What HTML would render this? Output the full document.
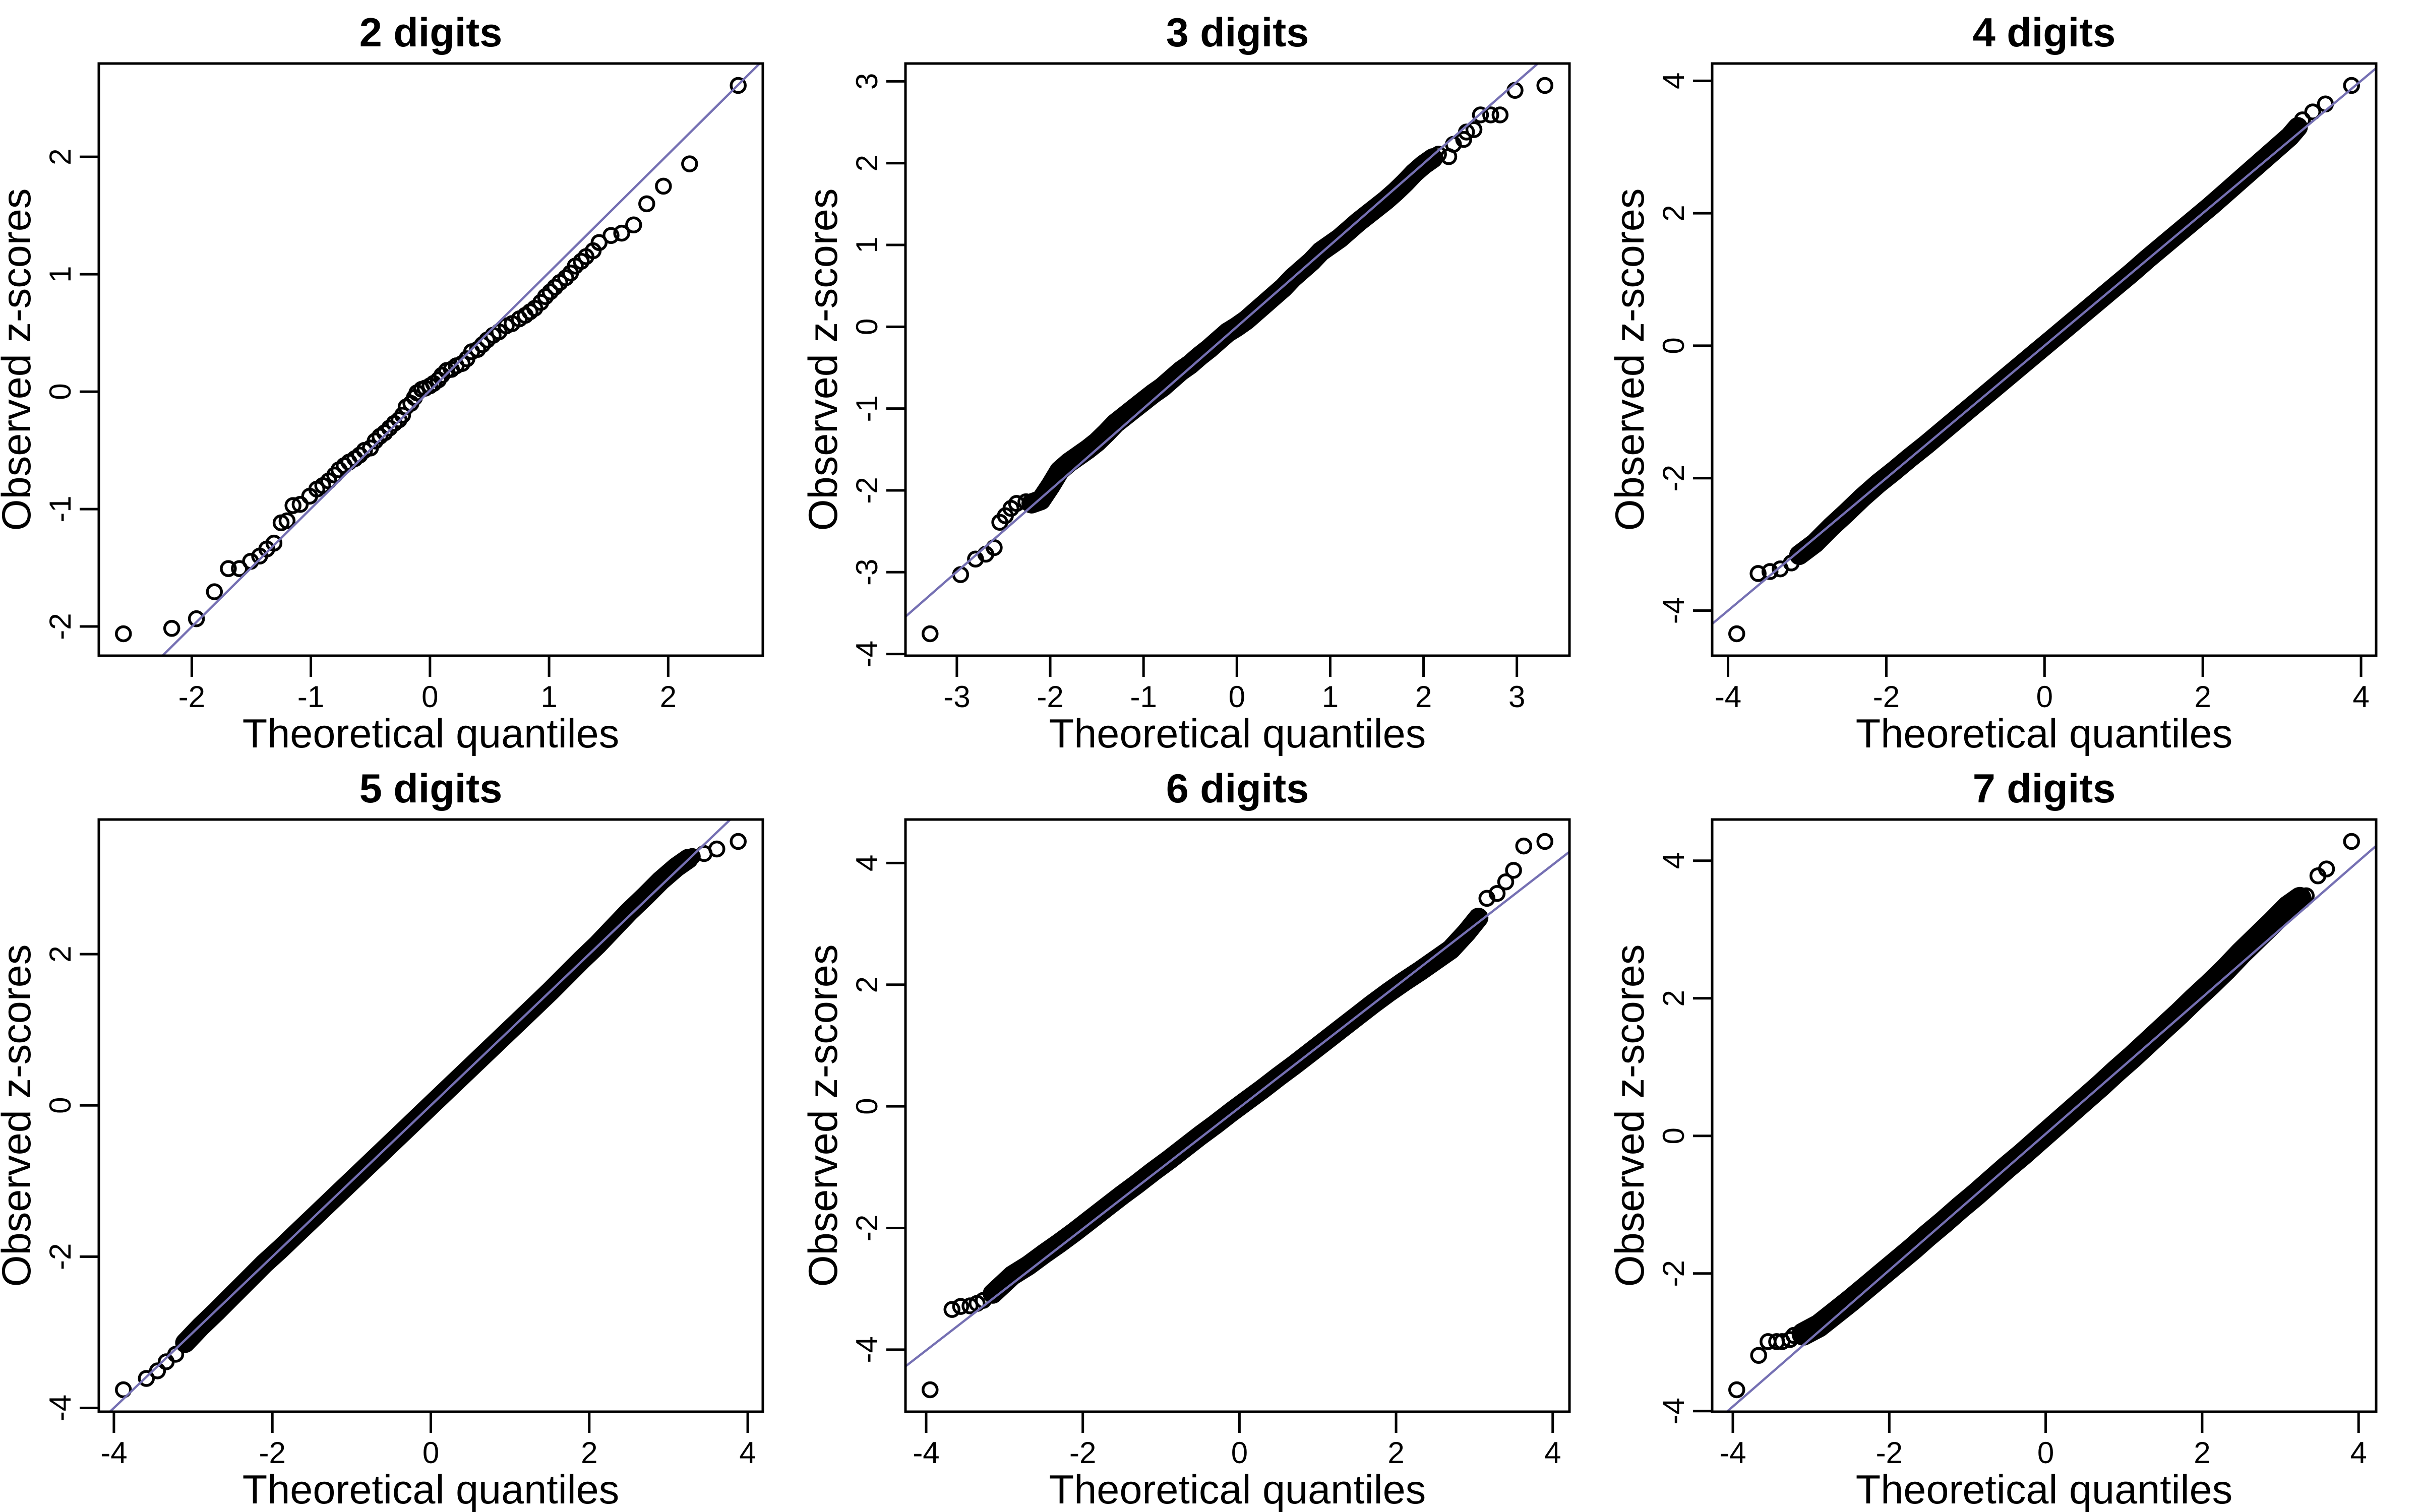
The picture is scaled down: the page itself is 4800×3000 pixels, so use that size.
<!DOCTYPE html>
<html><head><meta charset="utf-8"><title>QQ plots by digits</title>
<style>
html,body{margin:0;padding:0;background:#fff;}
svg{display:block;font-family:"Liberation Sans",Arial,sans-serif;}
</style></head>
<body>
<svg id="chart" xmlns="http://www.w3.org/2000/svg" width="4800" height="3000" viewBox="0 0 4800 3000"></svg>
<script>
// ---- data ----
const titles = ["2 digits","3 digits","4 digits","5 digits","6 digits","7 digits"];
const xTicks = [[-2,-1,0,1,2],[-3,-2,-1,0,1,2,3],[-4,-2,0,2,4],[-4,-2,0,2,4],[-4,-2,0,2,4],[-4,-2,0,2,4]];
const yTicks = [[-2,-1,0,1,2],[-4,-3,-2,-1,0,1,2,3],[-4,-2,0,2,4],[-4,-2,0,2],[-4,-2,0,2,4],[-4,-2,0,2,4]];
const lineIntercept = [0.01,0.0,0.0,0.0,-0.02,0.03];
const lineSlope = [1.006,0.998,1.0,1.0,0.998,0.991];

// panel 1: individual points
const p1X = [-2.574,-2.168,-1.961,-1.81,-1.693,-1.60,-1.506,-1.43,-1.37,-1.31,-1.25,-1.20,-1.15,-1.09,-1.01,-0.95,-0.90,-0.85,-0.80,-0.764,-0.72,-0.68,-0.63,-0.59,-0.55,-0.50,-0.46,-0.42,-0.38,-0.34,-0.30,-0.26,-0.23,-0.20,-0.16,-0.13,-0.11,-0.07,-0.04,0.0,0.03,0.07,0.10,0.14,0.18,0.22,0.27,0.31,0.35,0.40,0.44,0.48,0.53,0.58,0.64,0.69,0.75,0.80,0.84,0.88,0.93,0.97,1.01,1.05,1.09,1.14,1.18,1.22,1.27,1.31,1.37,1.42,1.52,1.61,1.71,1.82,1.96,2.18,2.588];
const p1Y = [-2.062,-2.016,-1.934,-1.704,-1.507,-1.507,-1.445,-1.40,-1.34,-1.29,-1.117,-1.10,-0.97,-0.96,-0.89,-0.83,-0.80,-0.76,-0.71,-0.665,-0.63,-0.60,-0.57,-0.54,-0.50,-0.48,-0.42,-0.38,-0.35,-0.31,-0.27,-0.24,-0.20,-0.13,-0.10,-0.05,-0.01,0.02,0.03,0.05,0.07,0.10,0.14,0.18,0.19,0.22,0.24,0.28,0.34,0.36,0.40,0.44,0.48,0.51,0.56,0.58,0.62,0.65,0.68,0.71,0.76,0.81,0.85,0.89,0.93,0.97,1.01,1.07,1.11,1.15,1.20,1.27,1.33,1.35,1.42,1.60,1.75,1.94,2.608];

// panels 2-6: tail points and the dense central band
const p2TailX = [-3.287,-2.96,-2.80,-2.69,-2.60,-2.54,-2.48,-2.42,-2.36,-2.26,2.16,2.27,2.32,2.43,2.46,2.54,2.61,2.72,2.82,2.98,3.30];
const p2TailY = [-3.753,-3.03,-2.84,-2.78,-2.70,-2.39,-2.31,-2.22,-2.16,-2.14,2.11,2.08,2.23,2.29,2.38,2.41,2.59,2.59,2.59,2.89,2.95];
const p2BandX = [-2.2,-2.1,-2.0,-1.9,-1.8,-1.7,-1.6,-1.5,-1.4,-1.3,-1.2,-1.1,-1.0,-0.9,-0.8,-0.7,-0.6,-0.5,-0.4,-0.3,-0.2,-0.1,0.0,0.1,0.2,0.3,0.4,0.5,0.6,0.7,0.8,0.9,1.0,1.1,1.2,1.3,1.4,1.5,1.6,1.7,1.8,1.9,2.0,2.1];
const p2BandY = [-2.16,-2.12,-1.95,-1.76,-1.66,-1.58,-1.50,-1.41,-1.30,-1.18,-1.09,-1.00,-0.91,-0.82,-0.74,-0.64,-0.54,-0.46,-0.36,-0.27,-0.17,-0.07,0.0,0.08,0.18,0.28,0.38,0.48,0.60,0.70,0.80,0.92,1.0,1.08,1.18,1.28,1.37,1.46,1.55,1.65,1.76,1.88,1.98,2.06];

const p3TailX = [-3.89,-3.62,-3.47,-3.34,-3.20,3.26,3.39,3.55,3.88];
const p3TailY = [-4.35,-3.44,-3.41,-3.37,-3.28,3.41,3.53,3.65,3.93];
const p3BandX = [-3.1,-2.9,-2.7,-2.5,-2.3,-2.1,-1.9,-1.7,-1.5,-1.3,-1.1,-0.9,-0.7,-0.5,-0.3,-0.1,0.1,0.3,0.5,0.7,0.9,1.1,1.3,1.5,1.7,1.9,2.1,2.3,2.5,2.7,2.9,3.1,3.2];
const p3BandY = [-3.16,-2.98,-2.74,-2.52,-2.29,-2.08,-1.89,-1.69,-1.50,-1.30,-1.10,-0.90,-0.70,-0.50,-0.30,-0.10,0.10,0.30,0.50,0.70,0.90,1.10,1.31,1.51,1.71,1.91,2.11,2.32,2.53,2.74,2.95,3.16,3.30];

const p4TailX = [-3.88,-3.59,-3.45,-3.34,-3.22,3.30,3.45,3.61,3.88];
const p4TailY = [-3.76,-3.61,-3.51,-3.39,-3.29,3.29,3.33,3.39,3.49];
const p4BandX = [-3.1,-2.9,-2.7,-2.5,-2.3,-2.1,-1.9,-1.7,-1.5,-1.3,-1.1,-0.9,-0.7,-0.5,-0.3,-0.1,0.1,0.3,0.5,0.7,0.9,1.1,1.3,1.5,1.7,1.9,2.1,2.3,2.5,2.7,2.9,3.1,3.25];
const p4BandY = [-3.14,-2.92,-2.72,-2.51,-2.30,-2.09,-1.90,-1.70,-1.50,-1.30,-1.10,-0.90,-0.70,-0.50,-0.30,-0.10,0.10,0.30,0.50,0.70,0.90,1.10,1.30,1.50,1.71,1.92,2.12,2.34,2.56,2.76,2.97,3.15,3.26];

const p5TailX = [-3.95,-3.67,-3.56,-3.44,-3.35,-3.27,3.16,3.29,3.40,3.50,3.63,3.90];
const p5TailY = [-4.66,-3.34,-3.29,-3.28,-3.24,-3.19,3.42,3.50,3.69,3.88,4.28,4.355];
const p5BandX = [-3.15,-2.9,-2.7,-2.5,-2.3,-2.1,-1.9,-1.7,-1.5,-1.3,-1.1,-0.9,-0.7,-0.5,-0.3,-0.1,0.1,0.3,0.5,0.7,0.9,1.1,1.3,1.5,1.7,1.9,2.1,2.3,2.5,2.7,2.9,3.05];
const p5BandY = [-3.08,-2.78,-2.62,-2.43,-2.25,-2.06,-1.86,-1.66,-1.46,-1.27,-1.07,-0.88,-0.68,-0.48,-0.29,-0.09,0.10,0.29,0.49,0.68,0.88,1.08,1.28,1.48,1.68,1.87,2.05,2.22,2.40,2.58,2.86,3.10];

const p6TailX = [-3.95,-3.67,-3.55,-3.44,-3.37,-3.27,-3.22,3.33,3.48,3.59,3.91];
const p6TailY = [-3.69,-3.19,-2.99,-2.99,-2.99,-2.96,-2.90,3.49,3.78,3.88,4.28];
const p6BandX = [-3.1,-2.9,-2.7,-2.5,-2.3,-2.1,-1.9,-1.7,-1.5,-1.3,-1.1,-0.9,-0.7,-0.5,-0.3,-0.1,0.1,0.3,0.5,0.7,0.9,1.1,1.3,1.5,1.7,1.9,2.1,2.3,2.5,2.7,2.9,3.1,3.25];
const p6BandY = [-2.88,-2.76,-2.58,-2.40,-2.21,-2.02,-1.83,-1.64,-1.44,-1.25,-1.05,-0.86,-0.66,-0.46,-0.27,-0.07,0.13,0.33,0.53,0.73,0.94,1.14,1.35,1.56,1.77,1.99,2.20,2.42,2.66,2.88,3.10,3.33,3.45];

const tailXs = [p1X,p2TailX,p3TailX,p4TailX,p5TailX,p6TailX];
const tailYs = [p1Y,p2TailY,p3TailY,p4TailY,p5TailY,p6TailY];
const bandXs = [[],p2BandX,p3BandX,p4BandX,p5BandX,p6BandX];
const bandYs = [[],p2BandY,p3BandY,p4BandY,p5BandY,p6BandY];

// ---- rendering ----
const NS = "http://www.w3.org/2000/svg";
const svg = document.getElementById("chart");
const BOX = {l:196, r:1513, t:126, b:1301};
const LINE = "#7570b3";

function mk(tag, attrs, parent){
  const e = document.createElementNS(NS, tag);
  for (const k in attrs) e.setAttribute(k, attrs[k]);
  parent.appendChild(e);
  return e;
}
function extRange(a){
  let mn = Math.min(...a), mx = Math.max(...a);
  const d = (mx - mn) * 0.04;
  return [mn - d, mx + d];
}

for (let p = 0; p < 6; p++) {
  const col = p % 3, row = Math.floor(p / 3);
  const g = mk("g", {transform: `translate(${col*1600},${row*1500})`}, svg);
  
  

  const allX = tailXs[p].concat(bandXs[p]);
  const allY = tailYs[p].concat(bandYs[p]);
  const [x0, x1] = extRange(allX);
  const [y0, y1] = extRange(allY);
  const sx = v => BOX.l + (v - x0) / (x1 - x0) * (BOX.r - BOX.l);
  const sy = v => BOX.b - (v - y0) / (y1 - y0) * (BOX.b - BOX.t);
  const cx = (BOX.l + BOX.r) / 2, cy = (BOX.t + BOX.b) / 2;

  const title = mk("text", {x: cx, y: 92, "text-anchor": "middle", "font-size": 81, "font-weight": "bold"}, g);
  title.textContent = titles[p];
  
  

  const clipId = "clip" + p;
  const cp = mk("clipPath", {id: clipId}, g);
  mk("rect", {x: BOX.l, y: BOX.t, width: BOX.r - BOX.l, height: BOX.b - BOX.t}, cp);

  const pts = g.appendChild(document.createElementNS(NS, "g"));
  
  
  if (bandXs[p].length) {
    const d = bandXs[p].map((v, i) => `${sx(v).toFixed(1)},${sy(bandYs[p][i]).toFixed(1)}`).join(" ");
    const band = mk("polyline", {points: d, fill: "none", stroke: "#000", "stroke-width": p === 5 ? 46 : 40, "stroke-linecap": "round", "stroke-linejoin": "round"}, pts);
    
    
    bandXs[p].forEach((v, i) => {
      const c = mk("circle", {cx: sx(v), cy: sy(bandYs[p][i]), r: 14, fill: "none", stroke: "#000", "stroke-width": 5.5}, pts);
      
      
    });
  }
  tailXs[p].forEach((v, i) => {
    const c = mk("circle", {cx: sx(v), cy: sy(tailYs[p][i]), r: 14, fill: "none", stroke: "#000", "stroke-width": 5.5}, pts);
    
    
  });

  const a = lineIntercept[p], b = lineSlope[p];
  const ql = mk("line", {x1: sx(x0 - 1), y1: sy(a + b * (x0 - 1)), x2: sx(x1 + 1), y2: sy(a + b * (x1 + 1)), stroke: LINE, "stroke-width": 4.5, "clip-path": `url(#${clipId})`}, g);
  
  

  const box = mk("rect", {x: BOX.l, y: BOX.t, width: BOX.r - BOX.l, height: BOX.b - BOX.t, fill: "none", stroke: "#000", "stroke-width": 5}, g);
  
  

  const xa = mk("g", {}, g);
  
  
  const xt = xTicks[p];
  mk("line", {x1: sx(xt[0]), y1: BOX.b, x2: sx(xt[xt.length-1]), y2: BOX.b, stroke: "#000", "stroke-width": 5}, xa);
  xt.forEach(v => {
    mk("line", {x1: sx(v), y1: BOX.b, x2: sx(v), y2: BOX.b + 42, stroke: "#000", "stroke-width": 5}, xa);
    const t = mk("text", {x: sx(v), y: 1403, "text-anchor": "middle", "font-size": 60}, xa);
    t.textContent = String(v);
    
    
  });
  const xl = mk("text", {x: cx, y: 1483, "text-anchor": "middle", "font-size": 81}, g);
  xl.textContent = "Theoretical quantiles";
  
  

  const ya = mk("g", {}, g);
  
  
  const yt = yTicks[p];
  mk("line", {x1: BOX.l, y1: sy(yt[0]), x2: BOX.l, y2: sy(yt[yt.length-1]), stroke: "#000", "stroke-width": 5}, ya);
  yt.forEach(v => {
    mk("line", {x1: BOX.l, y1: sy(v), x2: BOX.l - 38, y2: sy(v), stroke: "#000", "stroke-width": 5}, ya);
    const t = mk("text", {x: 0, y: 0, "text-anchor": "middle", "font-size": 60, transform: `translate(140,${sy(v)}) rotate(-90)`}, ya);
    t.textContent = String(v);
    
    
  });
  const yl = mk("text", {x: 0, y: 0, "text-anchor": "middle", "font-size": 81, transform: `translate(60,${cy}) rotate(-90)`}, g);
  yl.textContent = "Observed z-scores";
  
  
}
</script>
</body></html>
